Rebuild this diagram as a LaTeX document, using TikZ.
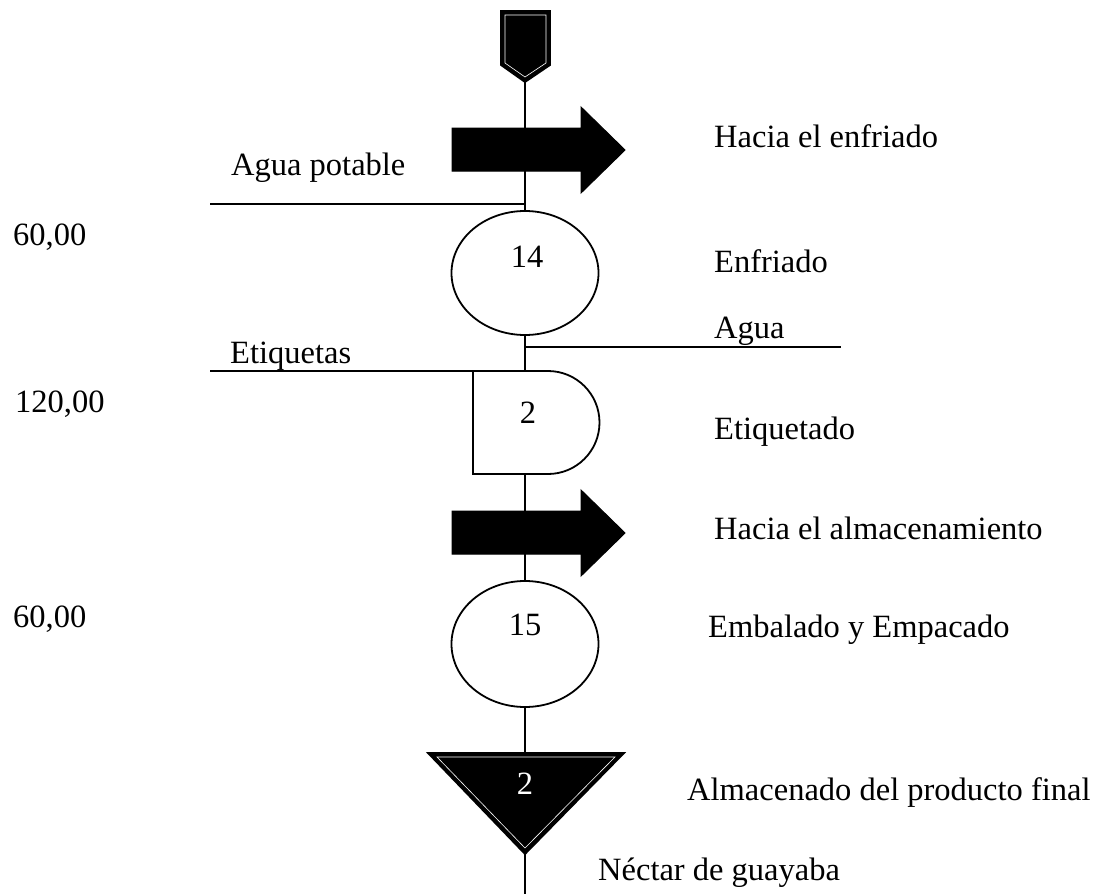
\documentclass[tikz,border=0pt]{standalone}
\usepackage{fontspec}
\setmainfont{Liberation Serif}
\usetikzlibrary{shapes.geometric}
\begin{document}
\begin{tikzpicture}[x=1pt,y=-1pt,
  ln/.style={line width=1.8pt,black},
  lbl/.style={anchor=base west,inner sep=0pt,font=\fontsize{32.5}{38}\selectfont},
  num/.style={inner sep=0pt,font=\fontsize{32.5}{38}\selectfont},
  oval/.style={ellipse,draw,line width=1.8pt,minimum width=147pt,minimum height=124pt,inner sep=0pt,fill=white},
  bigarrow/.style={fill=black,draw=black,line width=1pt}]
\useasboundingbox (0,0) rectangle (1096,894);
% coordinates
\coordinate (pentB) at (525,82);
\coordinate (aguaPot) at (210,204);
\coordinate (jA) at (525,204);
\coordinate (jB) at (525,347);
\coordinate (aguaEnd) at (841,347);
\coordinate (etiqL) at (210,371);
\coordinate (bottom) at (525,894);
% nodes
\node[oval] (c14) at (525,273) {};
\node[num] (n14) at (527,257) {14};
\coordinate (Dtl) at (473,371);
\coordinate (Dbl) at (473,474);
\coordinate (Dtop) at (525,371);
\coordinate (Dbot) at (525,474);
\node[oval,minimum height=126pt] (c15) at (525,644) {};
\node[num] (n15) at (525,625) {15};
\coordinate (triT) at (525,753);
\coordinate (triB) at (525,854);
% main flow line
\draw[ln] (pentB) -- (c14.north);
\draw[ln] (c14.south) -- (Dtop);
\draw[ln] (Dbot) -- (c15.north);
\draw[ln] (c15.south) -- (triT);
\draw[ln] (triB) -- (bottom);
\draw[ln] (aguaPot) -- (jA);
\draw[ln] (jB) -- (aguaEnd);
\draw[ln] (etiqL) -- (Dtl);
% pentagon (start)
\draw[fill=black,draw=black,line width=1.8pt] (501,11) -- (550,11) -- (550,65) -- (pentB) -- (501,65) -- cycle;
\draw[white,line width=0.6pt] (505,15) -- (546,15) -- (546,63) -- (525,77) -- (505,63) -- cycle;
% transport arrows
\draw[bigarrow] (452,128) -- (581,128) -- (581,107) -- (625,150) -- (581,193) -- (581,171) -- (452,171) -- cycle;
\draw[bigarrow] (452,511) -- (581,511) -- (581,490) -- (625,533) -- (581,576) -- (581,554) -- (452,554) -- cycle;
% D shape (delay)
\draw[line width=1.8pt,fill=white] (Dtl) -- (548,371) arc[start angle=-90,end angle=90,radius=51.5] -- (Dbl) -- cycle;
\node[num] (n2a) at (528,413) {2};
% triangle (storage)
\draw[fill=black,draw=black,line width=1.8pt] (428,753) -- (624,753) -- (triB) -- cycle;
\draw[white,line width=0.6pt] (437,757) -- (615,757) -- (525,848) -- cycle;
\node[num,text=white] (n2b) at (525,784) {2};
% labels
\node[lbl] at (231,175) {Agua potable};
\node[lbl] at (714,147) {Hacia el enfriado};
\node[lbl] at (13,245) {60,00};
\node[lbl] at (714,272) {Enfriado};
\node[lbl] at (714,338) {Agua};
\node[lbl] at (230,363) {Etiquetas};
\node[lbl] at (15,412) {120,00};
\node[lbl] at (714,439) {Etiquetado};
\node[lbl] at (714,539) {Hacia el almacenamiento};
\node[lbl] at (13,627) {60,00};
\node[lbl] at (708,637) {Embalado y Empacado};
\node[lbl] at (687,800) {Almacenado del producto final};
\node[lbl] at (598,880) {Néctar de guayaba};
\end{tikzpicture}
\end{document}
